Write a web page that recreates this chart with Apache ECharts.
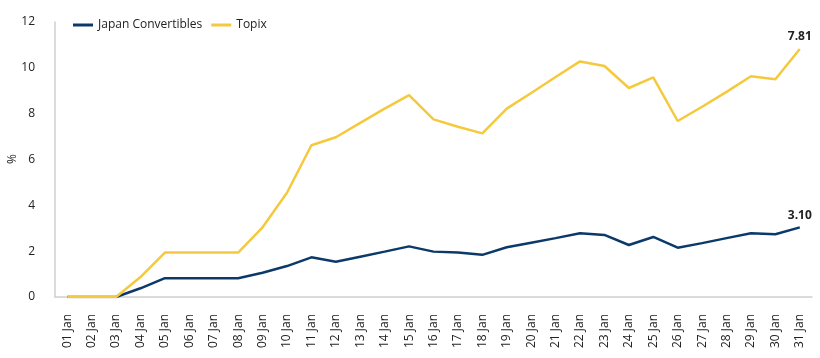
<!DOCTYPE html>
<html><head><meta charset="utf-8">
<script src="https://cdn.jsdelivr.net/npm/echarts@6/dist/echarts.min.js"></script>
<style>html,body{margin:0;padding:0;background:#fff}#c{width:820px;height:358px}</style>
</head><body><div id="c"></div>
<script>
const categories = ['01 Jan','02 Jan','03 Jan','04 Jan','05 Jan','06 Jan','07 Jan','08 Jan','09 Jan','10 Jan','11 Jan','12 Jan','13 Jan','14 Jan','15 Jan','16 Jan','17 Jan','18 Jan','19 Jan','20 Jan','21 Jan','22 Jan','23 Jan','24 Jan','25 Jan','26 Jan','27 Jan','28 Jan','29 Jan','30 Jan','31 Jan'];
const japanConvertibles = [0,0,0,0.38,0.82,0.82,0.82,0.82,1.06,1.35,1.73,1.54,1.76,1.98,2.21,1.98,1.94,1.84,2.17,2.37,2.57,2.78,2.71,2.27,2.62,2.15,2.35,2.57,2.78,2.74,3.04];
const topix = [0,0,0,0.87,1.94,1.94,1.94,1.94,3.04,4.55,6.62,6.97,7.6,8.22,8.81,7.75,7.43,7.14,8.22,8.9,9.6,10.28,10.08,9.12,9.58,7.68,8.3,8.95,9.63,9.5,10.82];
const endLabels = ['3.10','7.81'];
const yAxisName = '%';
const yTicks = {min:0, max:12, interval:2};

const font = '"Open Sans", "Noto Sans", sans-serif';
const chart = echarts.init(document.getElementById('c'), null, {renderer:'canvas'});
function endLabel(arr, text){
  return arr.map((v,i)=> i===arr.length-1 ? {value:v, label:{show:true, position:'top', formatter:text, color:'#222', fontSize:12, fontWeight:'bold', fontFamily:font, distance:6}} : v);
}
chart.setOption({
  animation:false,
  legend:{left:68, top:14, itemWidth:20, itemHeight:3, itemGap:9, icon:'rect',
    textStyle:{fontSize:12, color:'#222', fontFamily:font}},
  grid:{left:55, right:8, top:22, bottom:61, outerBoundsMode:'none', containLabel:false},
  graphic:[{type:'text', x:13, y:159, rotation:Math.PI/2,
    style:{text:yAxisName, fontSize:12, fill:'#222', fontFamily:font, align:'center', verticalAlign:'middle'}}],
  xAxis:{type:'category', data:categories, boundaryGap:true,
    axisLine:{lineStyle:{color:'#cfcfcf', width:1.5}}, axisTick:{show:false},
    axisLabel:{rotate:90, fontSize:12, color:'#222', fontFamily:font, margin:17, interval:0}},
  yAxis:{type:'value', min:yTicks.min, max:yTicks.max, interval:yTicks.interval,
    axisLine:{show:true, lineStyle:{color:'#cfcfcf', width:1.5}}, axisTick:{show:false},
    splitLine:{show:false},
    axisLabel:{fontSize:12, color:'#222', fontFamily:font, margin:20}},
  series:[
    {name:'Japan Convertibles', type:'line', data:endLabel(japanConvertibles, endLabels[0]),
      symbol:'circle', symbolSize:0, showSymbol:true, showAllSymbol:true,
      lineStyle:{color:'#0b3a6a', width:2.5}, itemStyle:{color:'#0b3a6a'}},
    {name:'Topix', type:'line', data:endLabel(topix, endLabels[1]),
      symbol:'circle', symbolSize:0, showSymbol:true, showAllSymbol:true,
      lineStyle:{color:'#f5c93e', width:2.5}, itemStyle:{color:'#f5c93e'}}
  ]
});
</script></body></html>
